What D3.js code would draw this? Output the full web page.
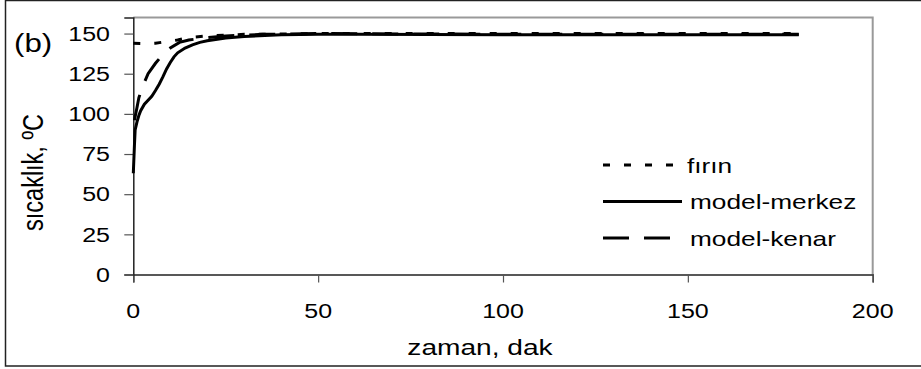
<!DOCTYPE html>
<html>
<head>
<meta charset="utf-8">
<script src="https://cdn.jsdelivr.net/npm/d3@7"></script>
<style>
  body { margin: 0; background: #fff; }
  text { font-family: "Liberation Sans", Arial, sans-serif; fill: #000; }
</style>
</head>
<body>
<div id="chart"></div>
<script>
// data: [time (dak), temperature (°C)]
const firin = [
  [0, 144], [3, 143.8], [6, 144], [9, 145], [12, 146], [15, 147.5],
  [20, 148.5], [30, 149.5], [50, 150], [100, 150], [150, 150], [180, 150]
];
const modelMerkez = [
  [0, 63], [0.3, 80], [0.5, 90], [1, 95], [1.5, 99], [2, 102], [3, 106],
  [4, 108.5], [5, 111], [6, 114.5], [7, 118.5], [8, 123], [9, 128],
  [10, 132], [11, 135.5], [12, 138], [14, 141], [16, 143], [18, 144.5],
  [20, 145.5], [25, 147.3], [30, 148.2], [40, 149.2], [50, 149.6],
  [60, 149.5], [100, 149.3], [150, 149.3], [180, 149.3]
];
const modelKenar = [
  [0.3, 96], [1, 104], [1.5, 110], [2.5, 117], [4, 125], [6, 131.5],
  [8, 137], [10, 141], [12.5, 144.5], [15, 146], [20, 147.5], [25, 148.5],
  [35, 149.5], [50, 150], [70, 149.8], [100, 149.6], [150, 149.5], [180, 149.5]
];
const seriesNames = ["fırın", "model-merkez", "model-kenar"];
const xTicks = [0, 50, 100, 150, 200];
const yTicks = [0, 25, 50, 75, 100, 125, 150];

const width = 921, height = 369;
const sx = 1.25; // the picture is stretched horizontally

const svg = d3.select("#chart").append("svg")
  .attr("width", width)
  .attr("height", height);

// outer frame
svg.append("path")
  .attr("d", `M${width + 5},0.5 H5.5 V366 H${width + 5}`)
  .attr("fill", "none")
  .attr("stroke", "#222")
  .attr("stroke-width", 1.5);

const x = d3.scaleLinear().domain([0, 200]).range([133.3, 872.7]);
const y = d3.scaleLinear().domain([0, 160]).range([274.5, 17.5]);

// plot area top/right border
svg.append("path")
  .attr("d", `M${x(0)},${y(160)} H${x(200)} V${y(0)}`)
  .attr("fill", "none")
  .attr("stroke", "#999")
  .attr("stroke-width", 2);

// axes
const xAxis = svg.append("g")
  .attr("transform", `translate(0,${y(0)})`)
  .call(d3.axisBottom(x).tickValues(xTicks).tickSize(8).tickFormat(""));
const yAxis = svg.append("g")
  .attr("transform", `translate(${x(0)},0)`)
  .call(d3.axisLeft(y).tickValues(yTicks).tickSize(9).tickFormat(""));
[xAxis, yAxis].forEach(g => {
  g.select(".domain").attr("stroke", "#222").attr("stroke-width", 1.5);
  g.selectAll(".tick line").attr("stroke", "#555").attr("stroke-width", 1.2);
});

// stretched text helper
function label(str, px, py, size, anchor, rotate) {
  return svg.append("text")
    .attr("transform", `translate(${px},${py})` + (rotate ? " rotate(-90) scale(1,1.25)" : ` scale(${sx},1)`))
    .attr("text-anchor", anchor)
    .style("font-size", size + "px")
    .text(str);
}

xTicks.forEach(t => label(t, x(t), 317.5, 20, "middle"));
yTicks.forEach(t => label(t, 110, y(t) + 7.3, 20, "end"));

label("zaman, dak", 480, 355, 22.5, "middle");
label("sıcaklık, ºC", 43, 172.5, 23.5, "middle", true);
label("(b)", 14, 52, 25, "start");

// lines
const line = d3.line().x(d => x(d[0])).y(d => y(d[1]));
const styles = [
  { data: firin, dash: "7,14", w: 3 },
  { data: modelMerkez, dash: null, w: 3 },
  { data: modelKenar, dash: "26,15", w: 3 }
];
styles.forEach(s => {
  svg.append("path")
    .datum(s.data)
    .attr("fill", "none")
    .attr("stroke", "#000")
    .attr("stroke-width", s.w)
    .attr("stroke-dasharray", s.dash)
    .attr("d", line);
});

// legend
const legendY = [165, 201.5, 238];
seriesNames.forEach((name, i) => {
  svg.append("line")
    .attr("x1", 603).attr("x2", 682)
    .attr("y1", legendY[i]).attr("y2", legendY[i])
    .attr("stroke", "#000")
    .attr("stroke-width", 3)
    .attr("stroke-dasharray", styles[i].dash);
  label(name, i === 0 ? 687 : 690, legendY[i] + 7.5, 21, "start");
});
</script>
</body>
</html>
